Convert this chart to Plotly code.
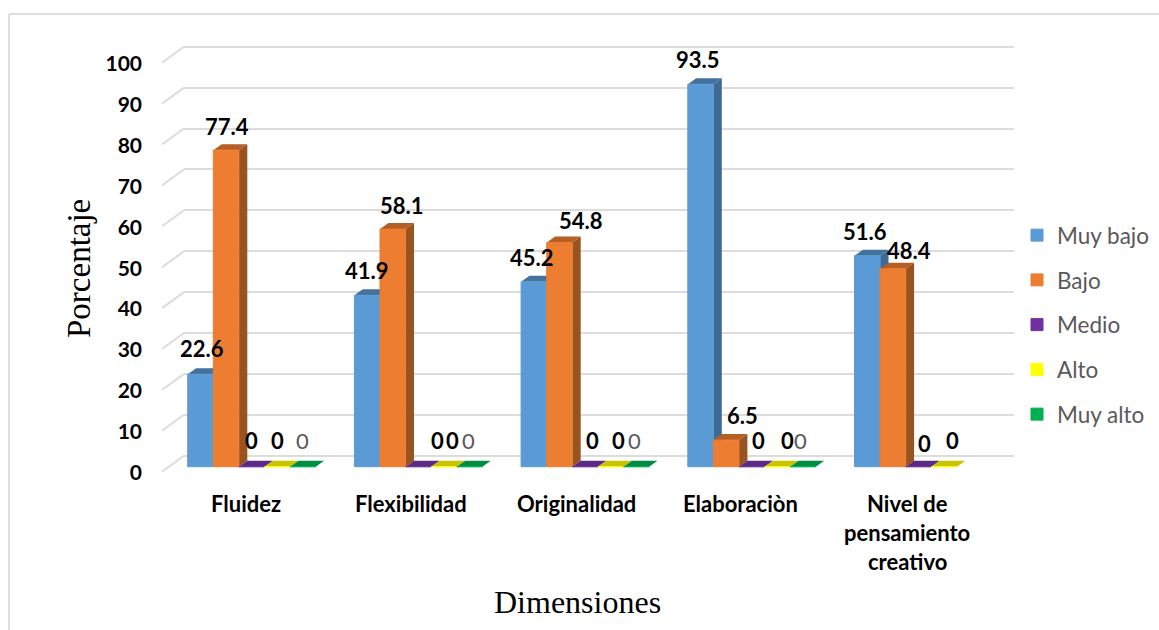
import plotly.graph_objects as go

# Chart data
categories = ["Fluidez", "Flexibilidad", "Originalidad", "Elaboraciòn", "Nivel de<br>pensamiento<br>creativo"]
muy_bajo = [22.6, 41.9, 45.2, 93.5, 51.6]
bajo = [77.4, 58.1, 54.8, 6.5, 48.4]
medio = [0, 0, 0, 0, 0]
alto = [0, 0, 0, 0, 0]
muy_alto = [0, 0, 0, 0, None]
y_ticks = [0, 10, 20, 30, 40, 50, 60, 70, 80, 90, 100]

series_names = ["Muy bajo", "Bajo", "Medio", "Alto", "Muy alto"]
series_values = [muy_bajo, bajo, medio, alto, muy_alto]
front_colors = ["#5B9BD5", "#ED7D31", "#7030A0", "#FFFF00", "#00B050"]
top_colors = ["#44729F", "#B55F25", "#5A2A86", "#C9C400", "#008C42"]
side_colors = ["#3E6A93", "#975320", "#4F2474", "#A8A400", "#007536"]

# Hand-placed data label offsets in pixels (right, up) from each bar's top centre
label_dx = [
    [1, 1, 0, 0, 0],
    [-0.5, 8.9, 19.3, 8.7, -1.3],
    [-1.6, 21.2, 7.6, 7.6, -2],
    [-2.6, 16.5, 6.5, 9.9, -3],
    [-2.3, 16.1, 5.8, 8.6, 0],
]
label_dy = [
    [25.8, 23.6, 26, 26, 26],
    [24.6, 24, 26, 26, 26],
    [24.5, 21.9, 26, 26, 26],
    [24.3, 25, 26, 26, 26],
    [23.7, 18.7, 23.4, 26, 26],
]
category_dx = [-6, -7.4, -8.4, -11.8, -11.5]

# Page geometry in pixels
W, H = 1159, 630
PLOT_TOP, PLOT_BOTTOM = 30, 492
WALL_LEFT, FRONT_LEFT, PLOT_RIGHT = 184, 162, 1014
BASE_PX = 466.7          # bar foot
PX_PER_UNIT = 4.09       # vertical scale
CATEGORY_PX = 166.7      # distance between groups
FIRST_CENTER_PX = 251.7  # centre of first group
GROUP_FILL = 128 / CATEGORY_PX
BAR_W = GROUP_FILL / 5
DEPTH_X = 8.4 / CATEGORY_PX
DEPTH_Y = 6.0 / PX_PER_UNIT
WALL_UP = 11.0 / PX_PER_UNIT    # rear wall rise above the bar foot
FRONT_DOWN = 5.0 / PX_PER_UNIT  # front edge of the floor below the bar foot


def x_at(px):
    return (px - FIRST_CENTER_PX) / CATEGORY_PX


def y_at(px):
    return (BASE_PX - px) / PX_PER_UNIT


y_range = [y_at(PLOT_BOTTOM), y_at(PLOT_TOP)]
front_x_range = [x_at(FRONT_LEFT), x_at(PLOT_RIGHT)]
positions = list(range(len(categories)))
fig = go.Figure()

# Rear wall gridlines come from the axis on their own, narrower subplot
fig.add_trace(go.Scatter(x=[0], y=[0], mode="markers", marker=dict(opacity=0),
                         showlegend=False, hoverinfo="skip", xaxis="x", yaxis="y"))

# Diagonal ends of the gridlines on the left side wall
diag_x, diag_y = [], []
for t in y_ticks:
    diag_x += [x_at(FRONT_LEFT), x_at(WALL_LEFT), None]
    diag_y += [t - FRONT_DOWN, t + WALL_UP, None]
fig.add_trace(go.Scatter(x=diag_x, y=diag_y, mode="lines", line=dict(color="#DCDCDC", width=2),
                         showlegend=False, hoverinfo="skip", xaxis="x2", yaxis="y2"))

# Extruded sides and tops of the bars, behind the front faces
for s, values in enumerate(series_values):
    side_x, side_y, top_x, top_y = [], [], [], []
    for g, v in zip(positions, values):
        if v is None:
            continue
        left = g + (s - 2.5) * BAR_W
        right = left + BAR_W
        side_x += [right, right + DEPTH_X, right + DEPTH_X, right, None]
        side_y += [0, DEPTH_Y, v + DEPTH_Y, v, None]
        top_x += [left, left + DEPTH_X, right + DEPTH_X, right, None]
        top_y += [v, v + DEPTH_Y, v + DEPTH_Y, v, None]
    for xs, ys, col in ((side_x, side_y, side_colors[s]), (top_x, top_y, top_colors[s])):
        fig.add_trace(go.Scatter(x=xs, y=ys, mode="lines", fill="toself", fillcolor=col,
                                 line=dict(width=0, color=col), showlegend=False,
                                 hoverinfo="skip", xaxis="x2", yaxis="y2"))

# Front faces of the bars
for s, (name, values) in enumerate(zip(series_names, series_values)):
    fig.add_trace(go.Bar(x=positions, y=values, name=name, legendgroup=name,
                         marker=dict(color=front_colors[s], line=dict(color=front_colors[s], width=1)),
                         xaxis="x3", yaxis="y3"))

annotations = []

# Data labels; the Muy alto series is lighter than the rest
for s, values in enumerate(series_values):
    for g, v in zip(positions, values):
        if v is None:
            continue
        light = s == 4
        annotations.append(dict(
            x=g + (s - 2) * BAR_W, y=v, xref="x3", yref="y3",
            text=f"{v:g}", showarrow=False, xanchor="center", yanchor="middle",
            xshift=label_dx[g][s], yshift=label_dy[g][s],
            font=dict(family="Lato", size=22, color="#595959" if light else "#000000",
                      weight="normal" if light else "bold"),
        ))

# Category captions, spaced line by line
for g, label in zip(positions, categories):
    for n, line in enumerate(label.split("<br>")):
        annotations.append(dict(
            x=g, y=1 - (503 + 29 * n) / H, xref="x3", yref="paper",
            text=line, showarrow=False, xanchor="center", yanchor="middle",
            xshift=category_dx[g],
            font=dict(family="Lato", size=22, color="#000000", weight="bold"),
        ))

# Axis titles
annotations.append(dict(x=577 / W, y=1 - 602 / H, xref="paper", yref="paper", text="Dimensiones",
                        showarrow=False, xanchor="center", yanchor="middle",
                        font=dict(family="Liberation Serif", size=32, color="#000000")))
annotations.append(dict(x=78.5 / W, y=1 - 268.5 / H, xref="paper", yref="paper", text="Porcentaje",
                        showarrow=False, textangle=-90, xanchor="center", yanchor="middle",
                        font=dict(family="Liberation Serif", size=33, color="#000000")))

hidden = dict(visible=False, fixedrange=True)
y_domain = [1 - PLOT_BOTTOM / H, 1 - PLOT_TOP / H]

fig.update_layout(
    width=W, height=H, autosize=False,
    margin=dict(l=0, r=0, t=0, b=0),
    paper_bgcolor="#FFFFFF", plot_bgcolor="rgba(0,0,0,0)",
    barmode="group", bargap=1 - GROUP_FILL, bargroupgap=0,
    hovermode=False,
    annotations=annotations,
    legend=dict(x=1022 / W, y=1 - 214 / H, xanchor="left", yanchor="top",
                tracegroupgap=12.5, traceorder="grouped", indentation=-5, bgcolor="rgba(0,0,0,0)",
                font=dict(family="Lato", size=22.5, color="#595959")),
    xaxis=dict(hidden, domain=[WALL_LEFT / W, PLOT_RIGHT / W], range=[0, 1]),
    yaxis=dict(domain=y_domain, range=[r - WALL_UP for r in y_range], showgrid=True,
               gridcolor="#DCDCDC", gridwidth=2, tickmode="array", tickvals=y_ticks,
               showticklabels=False, zeroline=False, showline=False, ticks="", fixedrange=True),
    xaxis2=dict(hidden, domain=[FRONT_LEFT / W, PLOT_RIGHT / W], range=front_x_range, anchor="y2"),
    yaxis2=dict(domain=y_domain, range=y_range, anchor="x2", showgrid=False, zeroline=False,
                showline=False, ticks="", tickmode="array", tickvals=y_ticks,
                ticklabelstandoff=19, ticklabelshift=6, fixedrange=True,
                tickfont=dict(family="Lato", size=21, color="#000000", weight="bold")),
    xaxis3=dict(hidden, range=front_x_range, overlaying="x2", anchor="y3"),
    yaxis3=dict(hidden, range=y_range, overlaying="y2", anchor="x3"),
    shapes=[
        dict(type="line", xref="paper", yref="paper", x0=9 / W, x1=1, y0=1 - 14 / H, y1=1 - 14 / H,
             line=dict(color="#DEDEDE", width=2), layer="below"),
        dict(type="line", xref="paper", yref="paper", x0=9 / W, x1=9 / W, y0=0, y1=1 - 14 / H,
             line=dict(color="#DEDEDE", width=2), layer="below"),
    ],
)

fig.write_html("out.html")
